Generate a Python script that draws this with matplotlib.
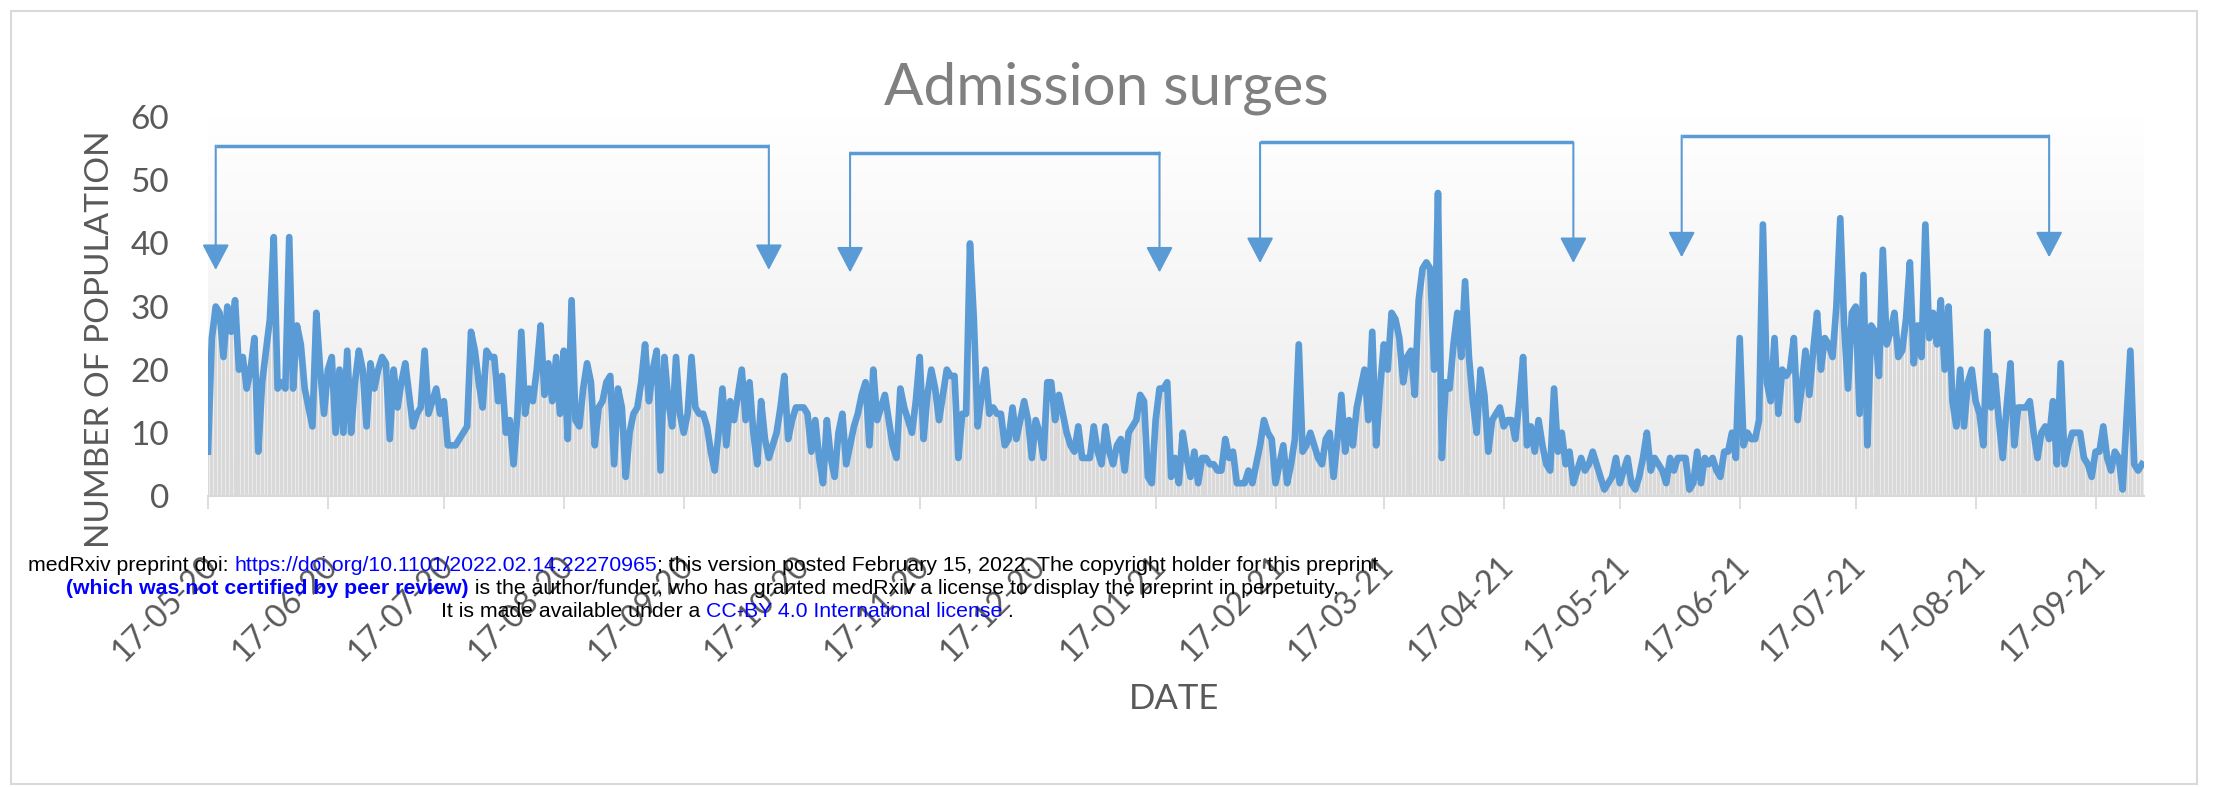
import matplotlib
matplotlib.use('Agg')

import matplotlib.pyplot as plt
import matplotlib.dates as mdates
import matplotlib.transforms as mtransforms
from matplotlib.colors import LinearSegmentedColormap
from matplotlib.patches import Rectangle
import numpy as np
import pandas as pd

# daily admissions from 17-05-2020
start_date = '2020-05-17'
admissions = [
    7, 25, 30, 29, 22, 30, 26, 31, 20, 22,
    17, 20, 25, 7, 18, 23, 28, 41, 17, 18,
    17, 41, 17, 27, 24, 17, 14, 11, 29, 20,
    13, 20, 22, 10, 20, 10, 23, 10, 18, 23,
    20, 11, 21, 17, 20, 22, 21, 9, 20, 14,
    18, 21, 16, 11, 13, 14, 23, 13, 15, 17,
    13, 15, 8, 8, 8, 9, 10, 11, 26, 23,
    18, 14, 23, 22, 22, 15, 19, 10, 12, 5,
    13, 26, 13, 17, 15, 20, 27, 16, 21, 15,
    22, 13, 23, 9, 31, 12, 11, 17, 21, 18,
    8, 14, 15, 18, 19, 5, 17, 14, 3, 10,
    13, 14, 18, 24, 15, 20, 23, 4, 22, 15,
    11, 22, 13, 10, 13, 22, 14, 13, 13, 11,
    7, 4, 10, 17, 8, 15, 12, 16, 20, 12,
    18, 10, 5, 15, 9, 6, 8, 10, 14, 19,
    9, 12, 14, 14, 14, 13, 7, 12, 6, 2,
    12, 6, 3, 10, 13, 5, 8, 11, 13, 16,
    18, 8, 20, 12, 14, 16, 12, 8, 6, 17,
    14, 12, 10, 15, 22, 9, 16, 20, 17, 12,
    16, 20, 19, 19, 6, 13, 13, 40, 28, 11,
    16, 20, 13, 14, 13, 13, 8, 9, 14, 9,
    12, 15, 12, 6, 12, 10, 6, 18, 18, 12,
    16, 13, 10, 8, 7, 11, 6, 6, 6, 11,
    7, 5, 11, 7, 5, 8, 9, 4, 10, 11,
    12, 16, 15, 3, 2, 12, 17, 17, 18, 3,
    6, 2, 10, 6, 3, 7, 2, 6, 6, 5,
    5, 4, 4, 9, 6, 7, 2, 2, 2, 4,
    2, 5, 8, 12, 10, 9, 2, 5, 8, 2,
    5, 9, 24, 7, 8, 10, 8, 6, 5, 9,
    10, 3, 9, 16, 7, 12, 8, 14, 17, 20,
    12, 26, 8, 17, 24, 20, 29, 28, 25, 18,
    22, 23, 16, 31, 36, 37, 36, 20, 48, 6,
    18, 17, 24, 29, 22, 34, 22, 15, 10, 20,
    16, 7, 12, 13, 14, 11, 12, 12, 9, 15,
    22, 8, 11, 7, 12, 8, 5, 4, 17, 7,
    10, 5, 7, 2, 4, 6, 4, 5, 7, 5,
    3, 1, 2, 3, 6, 2, 4, 6, 2, 1,
    3, 6, 10, 4, 6, 5, 4, 2, 6, 4,
    6, 6, 6, 1, 2, 7, 2, 6, 5, 6,
    4, 3, 7, 7, 10, 6, 25, 8, 10, 9,
    9, 12, 43, 18, 15, 25, 13, 20, 19, 20,
    25, 12, 17, 23, 16, 23, 29, 20, 25, 24,
    22, 30, 44, 27, 17, 29, 30, 13, 35, 8,
    27, 26, 19, 39, 24, 26, 29, 22, 23, 28,
    37, 21, 27, 22, 43, 25, 29, 24, 31, 20,
    30, 15, 11, 20, 11, 18, 20, 15, 13, 8,
    26, 14, 19, 12, 6, 14, 21, 8, 14, 14,
    14, 15, 10, 6, 10, 11, 9, 15, 5, 21,
    5, 8, 10, 10, 10, 6, 5, 3, 7, 7,
    11, 6, 4, 7, 6, 1, 12, 23, 5, 4, 5,
]

# surge brackets
surge_starts = ['2020-05-19', '2020-10-30', '2021-02-13', '2021-06-02']
surge_ends = ['2020-10-09', '2021-01-18', '2021-05-05', '2021-09-05']
surge_levels = [55.5, 54.4, 56.0, 57.1]
surge_tips = [35.8, 35.4, 36.9, 37.8]

BLUE = '#5b9bd5'
GREY_TXT = '#595959'

dates = pd.date_range(start_date, periods=len(admissions), freq='D')

fig = plt.figure(figsize=(22.15, 7.87), dpi=100)
ax = fig.add_axes([0.0939, 0.37, 0.874, 0.481])

x0 = mdates.date2num(dates[0])
x1 = mdates.date2num(dates[-1]) + 0.5

# plot area gradient
bg = LinearSegmentedColormap.from_list('bg', ['#ebebeb', '#ffffff'])
grad = np.linspace(0, 1, 256).reshape(-1, 1)
ax.imshow(grad, extent=[x0, x1, 0, 60], aspect='auto', cmap=bg,
          origin='lower', zorder=0)

ax.bar(dates, admissions, width=0.75, color='#d9d9d9', linewidth=0, zorder=1)
ax.plot(dates, admissions, color=BLUE, lw=4.8, solid_joinstyle='round', zorder=3)

for s, e, lev, tip in zip(surge_starts, surge_ends, surge_levels, surge_tips):
    xs = mdates.datestr2num(s)
    xe = mdates.datestr2num(e)
    ax.plot([xs, xe], [lev, lev], color=BLUE, lw=2.5, zorder=4,
            solid_capstyle='butt')
    for xx in (xs, xe):
        ax.annotate('', xy=(xx, tip), xytext=(xx, lev),
                    arrowprops=dict(arrowstyle='-|>,head_length=0.8,head_width=0.42',
                                    mutation_scale=20, color=BLUE, lw=1.5,
                                    shrinkA=0, shrinkB=0),
                    zorder=4)

ax.set_xlim(x0, x1)
ax.set_ylim(0, 60)
ax.set_yticks(range(0, 61, 10))

ax.xaxis.set_major_locator(mdates.MonthLocator(bymonthday=17))
ax.xaxis.set_major_formatter(mdates.DateFormatter('%d-%m-%y'))

for sp in ['top', 'right', 'left']:
    ax.spines[sp].set_visible(False)
ax.spines['bottom'].set_color('#d9d9d9')
ax.spines['bottom'].set_linewidth(1.5)

ax.tick_params(axis='y', length=0, pad=28, labelsize=24, labelcolor=GREY_TXT)
ax.tick_params(axis='x', length=9, width=1.2, color='#d9d9d9', pad=18,
               labelsize=23, labelcolor=GREY_TXT)
for lab in ax.get_yticklabels() + ax.get_xticklabels():
    lab.set_family('Lato')
shift = mtransforms.ScaledTranslation(0.05, -0.28, fig.dpi_scale_trans)
for lab in ax.get_xticklabels():
    lab.set_rotation(45)
    lab.set_ha('right')
    lab.set_va('center')
    lab.set_rotation_mode('anchor')
    lab.set_transform(lab.get_transform() + shift)

fig.text(0.4995, 0.888, 'Admission surges', ha='center', va='center',
         fontsize=42, color='#808080', family='Lato')
fig.text(0.045, 0.569, 'NUMBER OF POPULATION', rotation=90, ha='center',
         va='center', fontsize=24, color=GREY_TXT, family='Lato')
fig.text(0.530, 0.112, 'DATE', ha='center', va='center', fontsize=25,
         color=GREY_TXT, family='Lato')

# outer chart border
fig.patches.append(Rectangle((0.005, 0.004), 0.987, 0.982, transform=fig.transFigure,
                             fill=False, edgecolor='#d9d9d9', lw=1.5))

# medRxiv overlay
wm = dict(fontsize=15.3, family='Liberation Sans')


def chain(prev, txt, **kw):
    return ax.annotate(txt, xy=(1, 0), xycoords=prev, ha='left', va='bottom',
                       annotation_clip=False, **wm, **kw)


t = fig.text(0.0126, 0.270, 'medRxiv preprint doi: ', va='bottom', color='black', **wm)
t = chain(t, 'https://doi.org/10.1101/2022.02.14.22270965', color='blue')
t = chain(t, '; this version posted February 15, 2022. The copyright holder for this preprint',
          color='black')

t = fig.text(0.030, 0.240, '(which was not certified by peer review)', va='bottom',
             color='blue', fontweight='bold', **wm)
t = chain(t, ' is the author/funder, who has granted medRxiv a license to display the preprint in perpetuity.',
          color='black')

t = fig.text(0.199, 0.211, 'It is made available under a ', va='bottom', color='black', **wm)
t = chain(t, 'CC-BY 4.0 International license', color='blue')
t = chain(t, ' .', color='black')

fig.savefig('out.png', dpi=100)
